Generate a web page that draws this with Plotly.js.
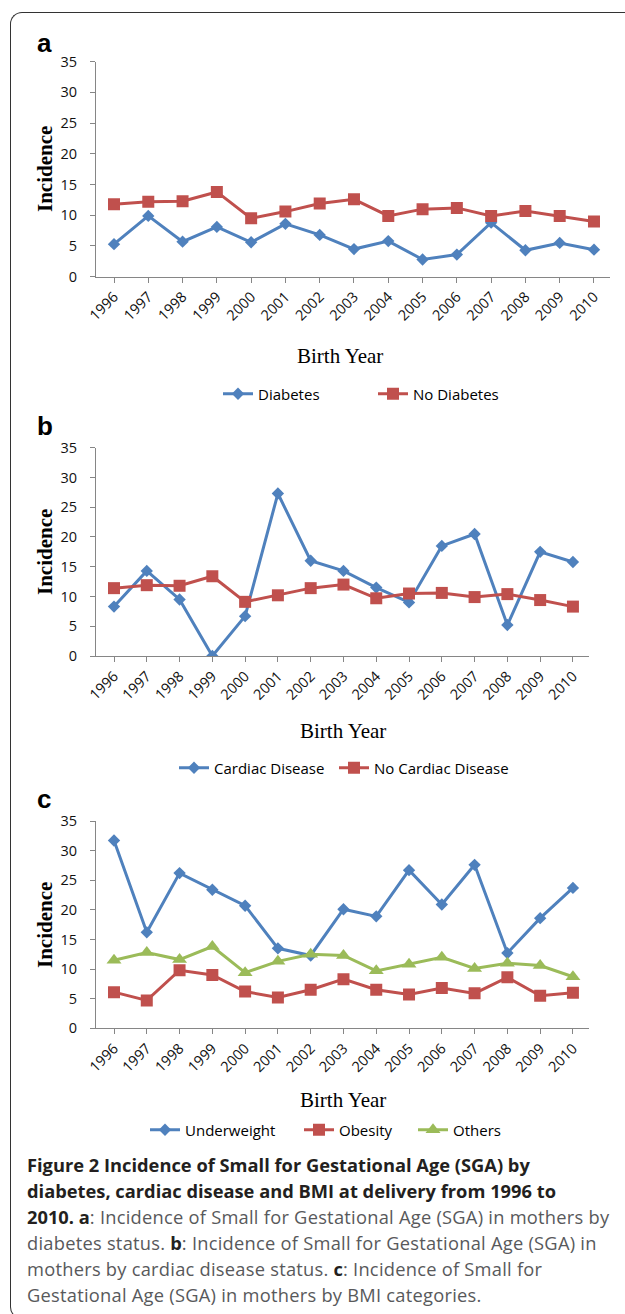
<!DOCTYPE html>
<html><head><meta charset="utf-8">
<script src="https://cdn.plot.ly/plotly-3.0.1.min.js"></script>
<style>
html,body{margin:0;padding:0;background:#fff;}
#wrap{position:relative;width:625px;height:1314px;overflow:hidden;background:#fff;}
#chart{position:absolute;left:0;top:0;width:625px;height:1314px;}
#frame{position:absolute;left:10px;top:12px;width:700px;height:1305px;border-top:1.5px solid #333;border-left:1.5px solid #333;border-bottom:1.5px solid #333;border-top-left-radius:12px;border-bottom-left-radius:12px;pointer-events:none;}
#caption{position:absolute;left:27px;top:1152px;font-family:'Open Sans',sans-serif;font-size:18.3px;line-height:26px;color:#58595b;white-space:nowrap;letter-spacing:0.25px;}
#caption b{color:#231f20;font-weight:700;letter-spacing:0;}
</style></head>
<body>
<div id="wrap">
<div id="chart"></div>
<div id="frame"></div>
<div id="caption"><b>Figure 2 Incidence of Small for Gestational Age (SGA) by</b><br><b>diabetes, cardiac disease and BMI at delivery from 1996 to</b><br><b>2010. a</b>: Incidence of Small for Gestational Age (SGA) in mothers by<br>diabetes status. <b>b</b>: Incidence of Small for Gestational Age (SGA) in<br>mothers by cardiac disease status. <b>c</b>: Incidence of Small for<br>Gestational Age (SGA) in mothers by BMI categories.</div>
</div>
<script>
const years = ['1996','1997','1998','1999','2000','2001','2002','2003','2004','2005','2006','2007','2008','2009','2010'];
const diabetes    = [5.3, 9.9, 5.7, 8.1, 5.6, 8.6, 6.8, 4.5, 5.8, 2.8, 3.6, 8.8, 4.3, 5.5, 4.4];
const noDiabetes  = [11.8, 12.2, 12.3, 13.8, 9.5, 10.6, 11.9, 12.6, 9.9, 11.0, 11.2, 9.9, 10.7, 9.9, 9.0];
const cardiac     = [8.3, 14.3, 9.5, 0, 6.7, 27.3, 16.0, 14.3, 11.5, 9.0, 18.5, 20.5, 5.2, 17.5, 15.8];
const noCardiac   = [11.4, 11.9, 11.8, 13.4, 9.1, 10.2, 11.4, 12.0, 9.7, 10.5, 10.6, 9.9, 10.4, 9.4, 8.3];
const underweight = [31.7, 16.2, 26.2, 23.4, 20.7, 13.5, 12.3, 20.1, 18.9, 26.7, 20.9, 27.6, 12.7, 18.6, 23.7];
const obesity     = [6.1, 4.7, 9.8, 9.0, 6.2, 5.2, 6.5, 8.3, 6.5, 5.7, 6.8, 5.9, 8.6, 5.5, 6.0];
const others      = [11.5, 12.8, 11.6, 13.8, 9.4, 11.3, 12.5, 12.3, 9.7, 10.8, 12.0, 10.1, 11.0, 10.6, 8.7];

const W = 625, H = 1314;
const BLUE = '#4F81BD', RED = '#C0504D', GREEN = '#9BBB59';
const px = v => v / W;
const py = v => 1 - v / H;

function tr(name, y, color, symbol, size, xa, ya, leg) {
  return {type:'scatter', mode:'lines+markers', name:name, x:years, y:y,
    xaxis:xa, yaxis:ya, legend:leg,
    line:{color:color, width:3},
    marker:{color:color, symbol:symbol, size:size, line:{width:0}},
    hoverinfo:'skip'};
}

const data = [
  tr('Diabetes', diabetes, BLUE, 'diamond', 9.5, 'x', 'y', 'legend'),
  tr('No Diabetes', noDiabetes, RED, 'square', 12, 'x', 'y', 'legend2'),
  tr('Cardiac Disease', cardiac, BLUE, 'diamond', 9.5, 'x2', 'y2', 'legend3'),
  tr('No Cardiac Disease', noCardiac, RED, 'square', 12, 'x2', 'y2', 'legend4'),
  tr('Underweight', underweight, BLUE, 'diamond', 9.5, 'x3', 'y3', 'legend5'),
  tr('Obesity', obesity, RED, 'square', 12, 'x3', 'y3', 'legend6'),
  tr('Others', others, GREEN, 'triangle-up', 13, 'x3', 'y3', 'legend7')
];

const tickFont = {family:'Open Sans, sans-serif', size:14.5, color:'#111'};
function xax(dom, range, anchor) {
  return {type:'category', domain:dom, range:range, anchor:anchor,
    showline:true, linecolor:'#868686', linewidth:1, showgrid:false, zeroline:false,
    ticks:'outside', ticklen:5, tickcolor:'#868686', tickwidth:1,
    tickangle:-45, tickfont:tickFont, fixedrange:true};
}
function yax(dom, anchor) {
  return {domain:dom, range:[0,35], dtick:5, tick0:0, anchor:anchor,
    showline:true, linecolor:'#868686', linewidth:1, showgrid:false, zeroline:false,
    ticks:'outside', ticklen:5, tickcolor:'#868686', tickwidth:1,
    ticklabelstandoff:10, tickfont:tickFont, fixedrange:true};
}
function leg(x, y) {
  return {orientation:'h', x:px(x), xanchor:'left', y:py(y), yanchor:'middle',
    bgcolor:'rgba(0,0,0,0)', borderwidth:0,
    font:{family:'Open Sans, sans-serif', size:15, color:'#000'}};
}

const serifB = {family:'Liberation Serif, Times New Roman, serif', size:21, color:'#000'};
function ann(text, x, y, font, opts) {
  return Object.assign({text:text, xref:'paper', yref:'paper', x:px(x), y:py(y),
    showarrow:false, font:font, xanchor:'center', yanchor:'middle'}, opts || {});
}
const labelFont = {family:'Liberation Sans, Arial, sans-serif', size:26, color:'#000'};

const layout = {
  width:W, height:H, margin:{l:0, r:0, t:0, b:0},
  paper_bgcolor:'rgba(0,0,0,0)', plot_bgcolor:'rgba(0,0,0,0)',
  showlegend:true,
  xaxis: xax([px(96), px(610)], [-0.525, 14.467], 'y'),
  yaxis: yax([py(276.7), py(61.7)], 'x'),
  xaxis2: xax([px(96), px(589)], [-0.549, 14.49], 'y2'),
  yaxis2: yax([py(656), py(447.7)], 'x2'),
  xaxis3: xax([px(96), px(589)], [-0.549, 14.49], 'y3'),
  yaxis3: yax([py(1028.3), py(821)], 'x3'),
  legend: leg(218, 394), legend2: leg(373, 394),
  legend3: leg(174, 768), legend4: leg(334, 768),
  legend5: leg(145, 1130), legend6: leg(299, 1130), legend7: leg(413, 1130),
  annotations: [
    ann('<b>a</b>', 35, 42.7, labelFont, {xanchor:'left'}),
    ann('<b>b</b>', 35, 426, labelFont, {xanchor:'left'}),
    ann('<b>c</b>', 35, 799, labelFont, {xanchor:'left'}),
    ann('<b>Incidence</b>', 45, 169, serifB, {textangle:-90}),
    ann('<b>Incidence</b>', 45, 552, serifB, {textangle:-90}),
    ann('<b>Incidence</b>', 45, 925, serifB, {textangle:-90}),
    ann('Birth Year', 340, 356, serifB),
    ann('Birth Year', 343, 731, serifB),
    ann('Birth Year', 343, 1100, serifB)
  ]
};

Plotly.newPlot('chart', data, layout, {displayModeBar:false, staticPlot:true});
</script>
</body></html>
